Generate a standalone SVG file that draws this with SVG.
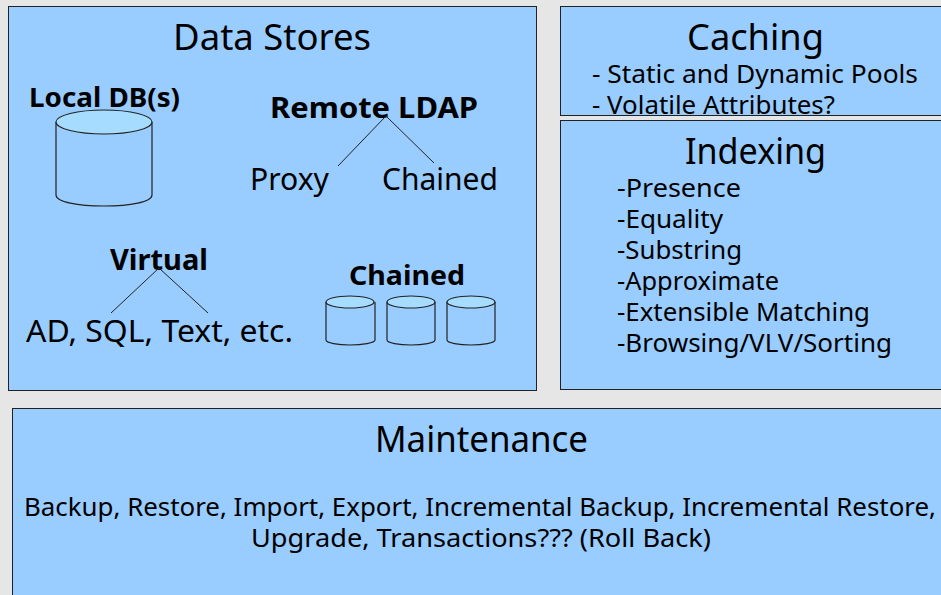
<svg xmlns="http://www.w3.org/2000/svg" width="941" height="595" viewBox="0 0 941 595">
<style>
.box{fill:#99ccff;stroke:#222;stroke-width:1}
.db{fill:#99ccff;stroke:#222;stroke-width:1.200}
.top{fill:#a6dcff;stroke:#222;stroke-width:1.200}
text{font-family:"Noto Sans",sans-serif;fill:#000}
.h{font-size:36px}
.t{font-size:26px}
.w{font-size:30px}
.b{font-size:29px;font-weight:bold}
.s{font-size:27px;font-weight:bold}
.l{fill:none;stroke:#222;stroke-width:1}
</style>
<rect width="941" height="595" fill="#e6e6e6"/>
<g id="data-stores">
<rect class="box" x="8.500" y="6.500" width="528" height="384"/>
<text class="h" x="173" y="50" textLength="198" lengthAdjust="spacingAndGlyphs">Data Stores</text>
</g>
<g id="local-db">
<text class="s" x="29" y="107" textLength="151" lengthAdjust="spacingAndGlyphs">Local DB(s)</text>
<path class="db" d="M56 122V195C56 202 78 206 104 206S152 202 152 195V122"/>
<ellipse class="top" cx="104" cy="122" rx="48" ry="12"/>
</g>
<g id="remote-ldap">
<text class="b" x="270" y="118" textLength="208" lengthAdjust="spacingAndGlyphs">Remote LDAP</text>
<text class="w" x="250" y="190" textLength="79" lengthAdjust="spacingAndGlyphs">Proxy</text>
<text class="w" x="382" y="190" textLength="116" lengthAdjust="spacingAndGlyphs">Chained</text>
</g>
<g id="virtual">
<text class="b" x="110" y="270" textLength="98" lengthAdjust="spacingAndGlyphs">Virtual</text>
<text class="w" x="26" y="342" textLength="267" lengthAdjust="spacingAndGlyphs">AD, SQL, Text, etc.</text>
</g>
<g id="chained">
<text class="s" x="349" y="285" textLength="116" lengthAdjust="spacingAndGlyphs">Chained</text>
<path class="db" d="M326 302V340C326 343 338 345 350 345S375 343 375 340V302"/>
<ellipse class="top" cx="350" cy="302" rx="24" ry="6"/>
<path class="db" d="M387 302V340C387 343 399 345 411 345S435 343 435 340V302"/>
<ellipse class="top" cx="411" cy="302" rx="24" ry="6"/>
<path class="db" d="M447 302V340C447 343 459 345 471 345S495 343 495 340V302"/>
<ellipse class="top" cx="471" cy="302" rx="24" ry="6"/>
</g>
<g id="caching">
<rect class="box" x="560.500" y="6.500" width="400" height="109"/>
<text class="h" x="687" y="50" textLength="137" lengthAdjust="spacingAndGlyphs">Caching</text>
<text class="t" x="592" y="83" textLength="326" lengthAdjust="spacingAndGlyphs">- Static and Dynamic Pools</text>
<text class="t" x="592" y="114" textLength="243" lengthAdjust="spacingAndGlyphs">- Volatile Attributes?</text>
</g>
<g id="indexing">
<rect class="box" x="560.500" y="120.500" width="400" height="269"/>
<text class="h" x="685" y="164" textLength="141" lengthAdjust="spacingAndGlyphs">Indexing</text>
<text class="t" x="617" y="197" textLength="124" lengthAdjust="spacingAndGlyphs">-Presence</text>
<text class="t" x="617" y="228" textLength="106" lengthAdjust="spacingAndGlyphs">-Equality</text>
<text class="t" x="617" y="259" textLength="125" lengthAdjust="spacingAndGlyphs">-Substring</text>
<text class="t" x="617" y="290" textLength="162" lengthAdjust="spacingAndGlyphs">-Approximate</text>
<text class="t" x="617" y="321" textLength="253" lengthAdjust="spacingAndGlyphs">-Extensible Matching</text>
<text class="t" x="617" y="352" textLength="275" lengthAdjust="spacingAndGlyphs">-Browsing/VLV/Sorting</text>
</g>
<g id="maintenance">
<rect class="box" x="12.500" y="408.500" width="940" height="200"/>
<text class="h" x="375" y="452" textLength="213" lengthAdjust="spacingAndGlyphs">Maintenance</text>
<text class="t" x="24" y="516" textLength="912" lengthAdjust="spacingAndGlyphs">Backup, Restore, Import, Export, Incremental Backup, Incremental Restore,</text>
<text class="t" x="251" y="547" textLength="460" lengthAdjust="spacingAndGlyphs">Upgrade, Transactions??? (Roll Back)</text>
</g>
<g id="connectors">
<path class="l" d="M386 116L338 166M386 116L434 163"/>
<path class="l" d="M159 268L111 313M159 268L208 313"/>
</g>
</svg>
